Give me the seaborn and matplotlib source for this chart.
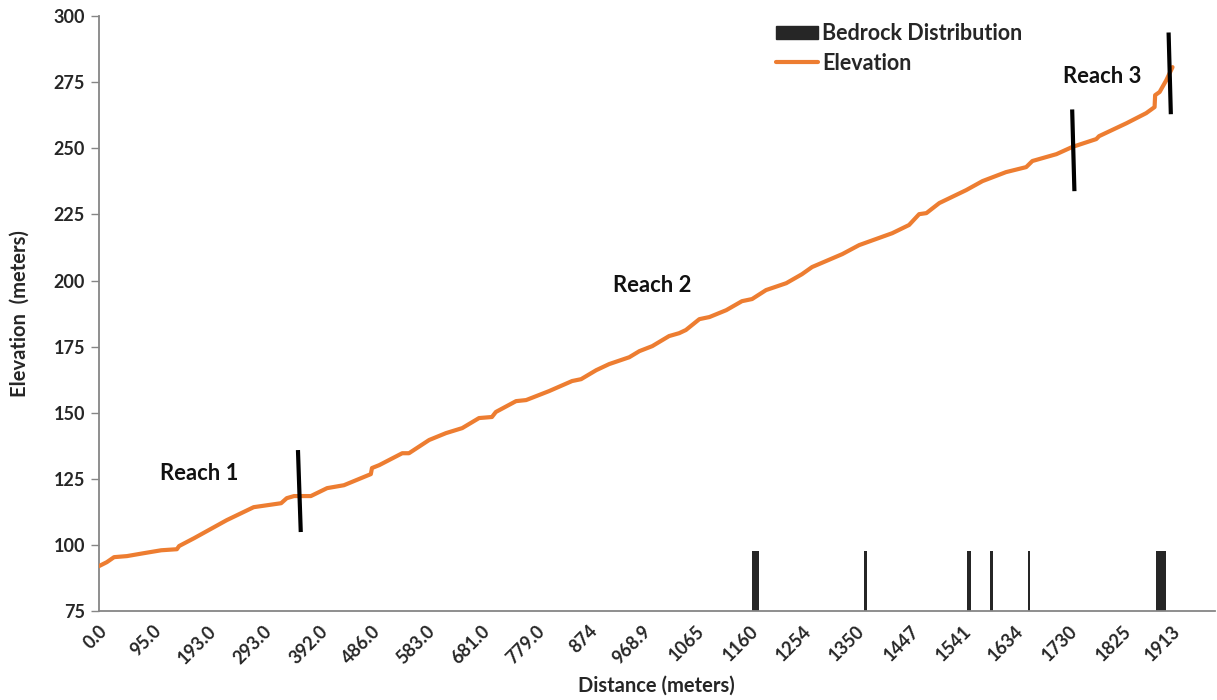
import matplotlib
matplotlib.use("Agg")
import matplotlib.pyplot as plt
import seaborn as sns
import pandas as pd
from matplotlib.patches import Patch
from matplotlib.lines import Line2D

# ---------------- data ----------------
distance = [0, 14, 27, 50, 80, 111, 139, 143, 170, 228, 276, 325, 335, 348, 378, 407,
            437, 485, 487, 500, 541, 553, 589, 619, 648, 678, 701, 708, 744, 762, 803,
            844, 860, 887, 910, 946, 964, 987, 1017, 1035, 1047, 1071, 1089, 1119, 1147,
            1165, 1190, 1226, 1254, 1272, 1326, 1356, 1415, 1445, 1463, 1476, 1499, 1547,
            1576, 1618, 1654, 1665, 1708, 1736, 1779, 1784, 1833, 1868, 1883, 1884, 1892,
            1904, 1915]
elevation = [92.0, 93.5, 95.4, 95.8, 96.9, 98.0, 98.4, 99.6, 102.6, 109.4, 114.3, 115.8,
             117.7, 118.5, 118.5, 121.5, 122.6, 126.8, 129.1, 130.2, 134.7, 134.7, 139.7,
             142.3, 144.2, 148.0, 148.4, 150.3, 154.4, 154.8, 158.2, 162.0, 162.7, 166.1,
             168.4, 171.0, 173.3, 175.2, 179.0, 180.1, 181.3, 185.4, 186.2, 188.8, 192.2,
             193.0, 196.4, 199.0, 202.4, 205.1, 210.0, 213.4, 217.9, 221.0, 225.1, 225.5,
             229.3, 234.2, 237.6, 241.0, 242.9, 245.2, 247.8, 250.5, 253.5, 254.6, 259.5,
             263.3, 265.6, 270.1, 271.3, 275.8, 280.7]

bedrock_center = [1171, 1367, 1552, 1592, 1659, 1894]
bedrock_width = [13, 6, 6, 6, 5, 18]
bedrock_top = [97.7, 97.7, 97.7, 97.7, 97.7, 97.7]

tick_values = [0.0, 95.0, 193.0, 293.0, 392.0, 486.0, 583.0, 681.0, 779.0, 874, 968.9,
               1065, 1160, 1254, 1350, 1447, 1541, 1634, 1730, 1825, 1913]
tick_labels = ["0.0", "95.0", "193.0", "293.0", "392.0", "486.0", "583.0", "681.0",
               "779.0", "874", "968.9", "1065", "1160", "1254", "1350", "1447", "1541",
               "1634", "1730", "1825", "1913"]
y_ticks = [75, 100, 125, 150, 175, 200, 225, 250, 275, 300]

reach_labels = ["Reach 1", "Reach 2", "Reach 3"]
reach_label_x = [178, 987, 1790]
reach_label_y = [127.2, 198.0, 277.3]

divider_x = [(355, 360), (1736, 1740), (1908, 1912)]
divider_y = [(135.9, 104.9), (264.7, 233.8), (293.8, 262.9)]

# ---------------- style ----------------
sns.set_style("white")
plt.rcParams["font.family"] = ["Lato", "DejaVu Sans"]
plt.rcParams["font.weight"] = "bold"

ORANGE = "#ED7D31"
DARK = "#262626"
SPINE = "#868686"

fig = plt.figure(figsize=(12.17, 7.0), dpi=100)
ax = fig.add_axes([0.0813, 0.127, 0.9167, 0.850])

y0 = 75
ax.bar(bedrock_center, [t - y0 for t in bedrock_top], width=bedrock_width,
       bottom=y0, color=DARK, linewidth=0, zorder=2)

df = pd.DataFrame({"Distance": distance, "Elevation": elevation})
sns.lineplot(data=df, x="Distance", y="Elevation", ax=ax, color=ORANGE,
             linewidth=3, sort=False, zorder=3)

for (xa, xb), (ya, yb) in zip(divider_x, divider_y):
    ax.plot([xa, xb], [ya, yb], color="black", linewidth=3, zorder=4,
            solid_capstyle="butt")

for lab, lx, ly in zip(reach_labels, reach_label_x, reach_label_y):
    ax.text(lx, ly, lab, fontsize=15.8, fontweight="bold", ha="center",
            va="center", color="#111111")

ax.set_xlim(0, 1990)
ax.set_ylim(75, 300)
ax.set_yticks(y_ticks)
ax.set_yticklabels([str(v) for v in y_ticks], fontsize=13, fontweight="bold")
ax.set_xticks(tick_values)
ax.set_xticklabels(tick_labels, rotation=45, ha="right", rotation_mode="anchor",
                   fontsize=13, fontweight="bold")

ax.tick_params(axis="y", which="major", length=6, width=1, color=SPINE,
               direction="out", left=True, pad=4)
ax.tick_params(axis="x", length=0, pad=8)

for s in ["top", "right"]:
    ax.spines[s].set_visible(False)
for s in ["left", "bottom"]:
    ax.spines[s].set_color(SPINE)
    ax.spines[s].set_linewidth(1.3)

ax.set_xlabel("Distance (meters)", fontsize=14.5, fontweight="bold")
ax.set_ylabel("Elevation  (meters)", fontsize=14.5, fontweight="bold")
ax.yaxis.set_label_coords(-0.0625, 0.5)
ax.xaxis.set_label_coords(0.5, -0.108)

handles = [Patch(facecolor=DARK, edgecolor=DARK),
           Line2D([0], [0], color=ORANGE, linewidth=3)]
leg = ax.legend(handles, ["Bedrock Distribution", "Elevation"], loc="upper left",
                bbox_to_anchor=(0.6375, 0.967), bbox_transform=fig.transFigure,
                frameon=False, fontsize=15.5, handlelength=1.95, handleheight=0.6,
                handletextpad=0.2, labelspacing=0.4, borderaxespad=0, borderpad=0)
for t in leg.get_texts():
    t.set_fontweight("bold")

fig.savefig("out.png", dpi=100, facecolor="white")
